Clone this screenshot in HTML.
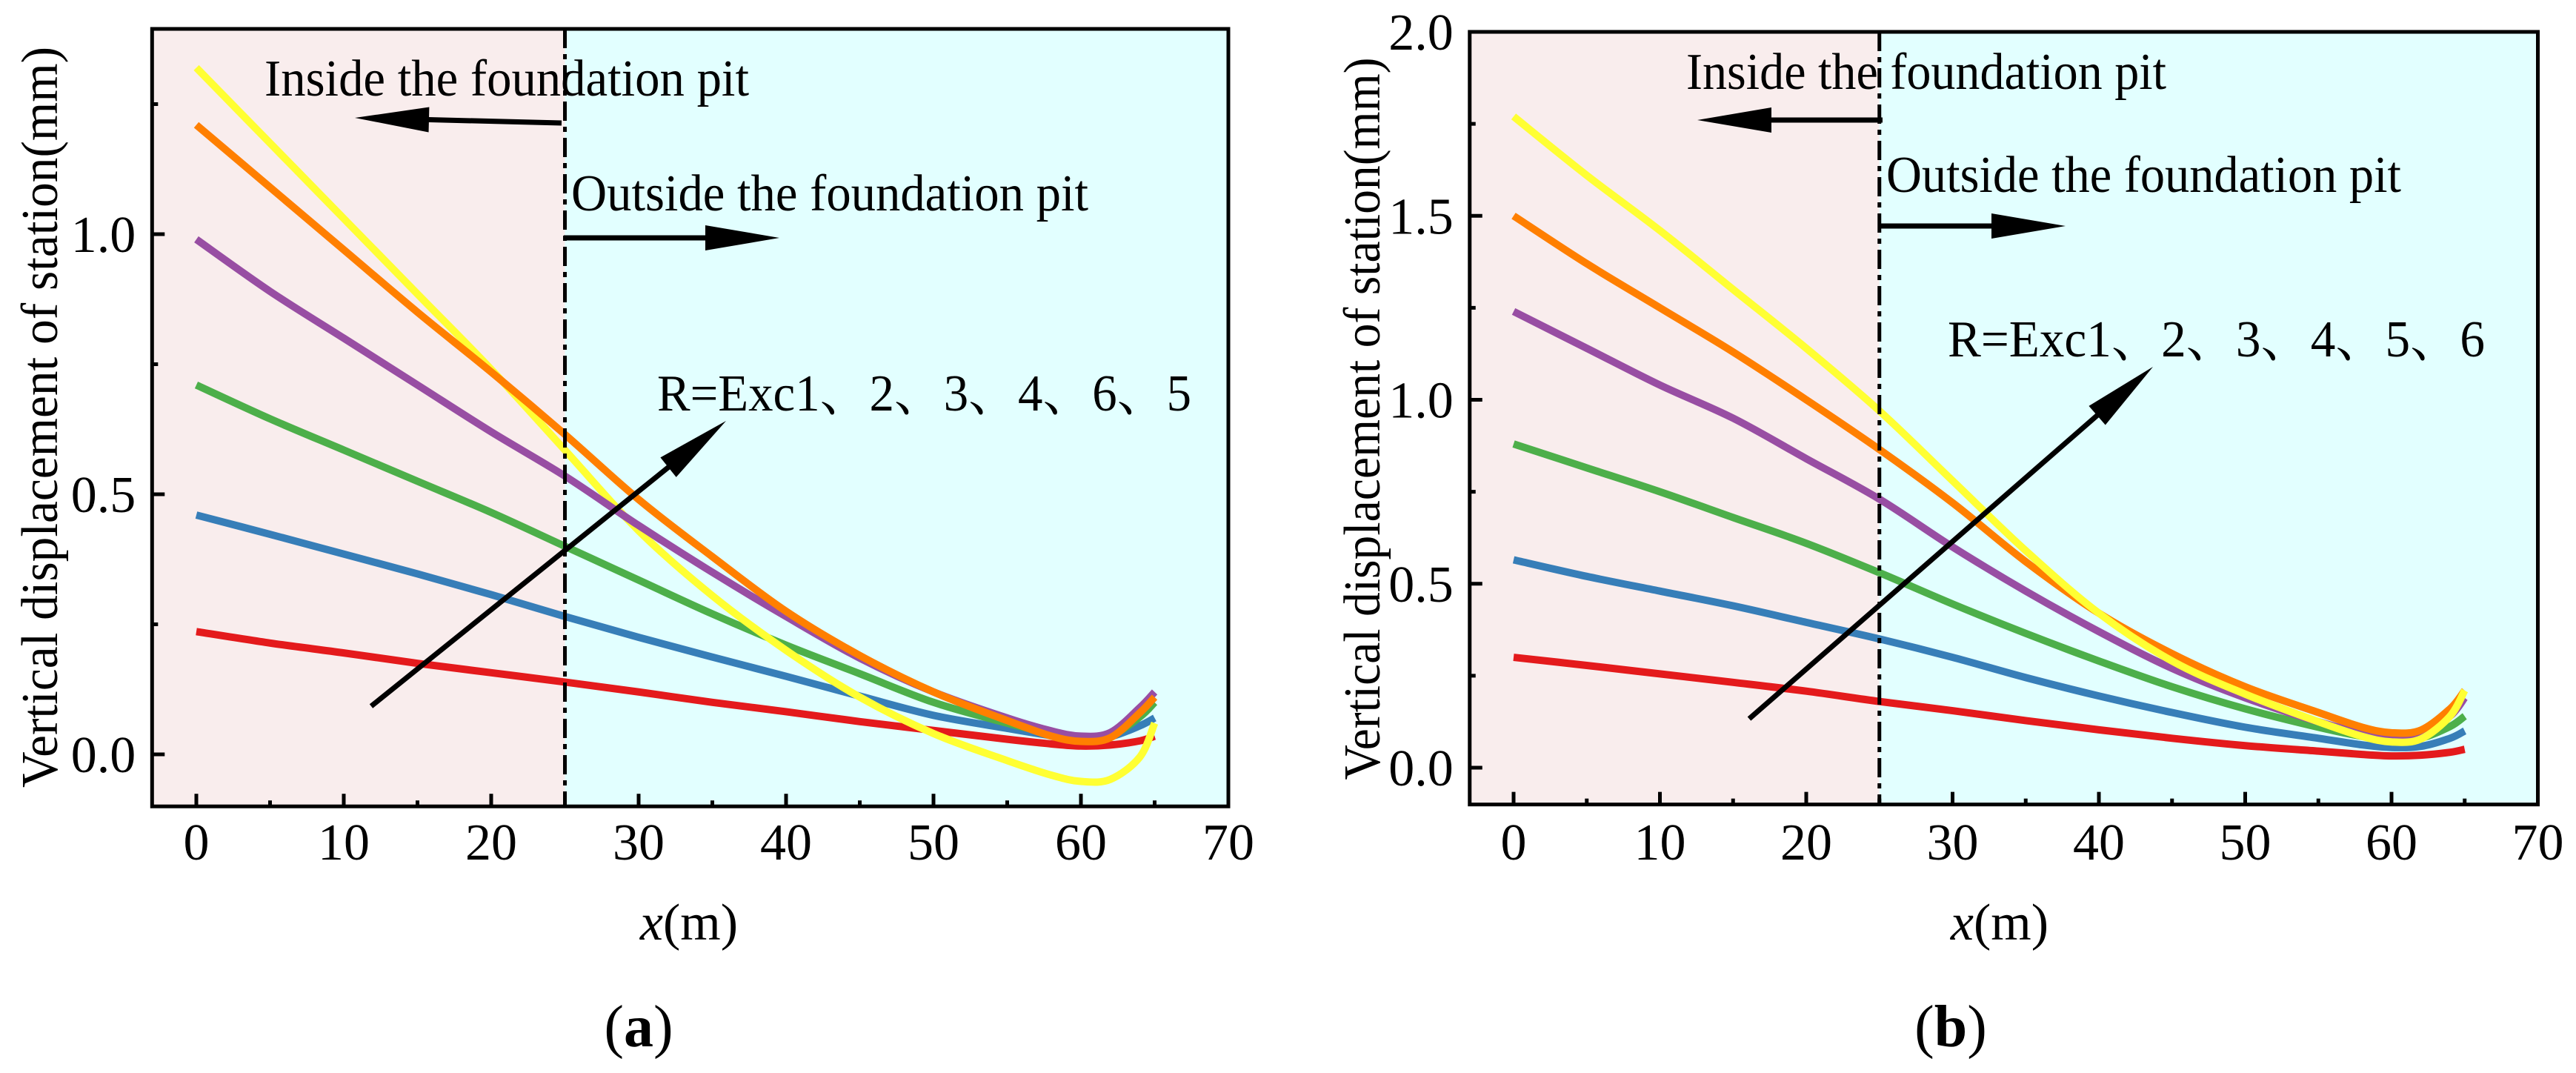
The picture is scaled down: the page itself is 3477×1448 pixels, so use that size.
<!DOCTYPE html>
<html><head><meta charset="utf-8"><style>
html,body{margin:0;padding:0;background:#fff;}
svg{display:block;}
text{font-family:"Liberation Serif","Noto Serif CJK SC",serif;}
</style></head><body>
<svg id="svg" width="3477" height="1448" viewBox="0 0 3477 1448" xmlns="http://www.w3.org/2000/svg"></svg>
<script>
// ---- data ----
const xsA = [0,5,10,15,20,25,30,35,40,45,50,55,58,60,62,64,65];
const redA    = [0.236,0.214,0.195,0.175,0.157,0.139,0.12,0.1,0.082,0.063,0.046,0.029,0.02,0.016,0.018,0.026,0.035];
const blueA   = [0.46,0.423,0.385,0.347,0.307,0.265,0.225,0.187,0.15,0.112,0.075,0.05,0.036,0.03,0.034,0.055,0.07];
const greenA  = [0.71,0.645,0.585,0.525,0.465,0.40,0.335,0.27,0.21,0.155,0.10,0.06,0.04,0.03,0.035,0.072,0.10];
const purpleA = [0.99,0.89,0.80,0.71,0.62,0.535,0.44,0.35,0.265,0.185,0.12,0.07,0.045,0.035,0.042,0.09,0.12];
const orangeA = [1.21,1.09,0.97,0.85,0.735,0.615,0.49,0.38,0.275,0.19,0.12,0.065,0.035,0.025,0.032,0.08,0.11];
const yellowA = [1.32,1.175,1.03,0.885,0.74,0.585,0.43,0.305,0.20,0.11,0.04,-0.012,-0.04,-0.052,-0.048,-0.005,0.06];

const xsB = [0,5,10,15,20,25,30,35,40,45,50,55,58,60,62,64,65];
const redB    = [0.30,0.278,0.255,0.232,0.208,0.18,0.155,0.128,0.103,0.08,0.06,0.045,0.036,0.032,0.034,0.042,0.05];
const blueB   = [0.565,0.52,0.48,0.44,0.395,0.35,0.30,0.245,0.195,0.15,0.11,0.08,0.062,0.055,0.058,0.08,0.10];
const greenB  = [0.88,0.815,0.75,0.68,0.61,0.53,0.445,0.365,0.29,0.22,0.16,0.11,0.085,0.075,0.08,0.112,0.14];
const purpleB = [1.24,1.14,1.04,0.95,0.84,0.73,0.60,0.48,0.37,0.27,0.19,0.125,0.095,0.085,0.092,0.14,0.19];
const orangeB = [1.50,1.37,1.25,1.13,1.00,0.865,0.72,0.56,0.42,0.31,0.22,0.15,0.11,0.095,0.102,0.16,0.21];
const yellowB = [1.77,1.61,1.46,1.30,1.14,0.97,0.78,0.59,0.42,0.29,0.20,0.125,0.085,0.07,0.078,0.14,0.21];

const xTicks = [0,10,20,30,40,50,60,70];
const xTickLabels = ["0","10","20","30","40","50","60","70"];
const yTicksA = [0,0.5,1.0];
const yTickLabelsA = ["0.0","0.5","1.0"];
const yTicksB = [0,0.5,1.0,1.5,2.0];
const yTickLabelsB = ["0.0","0.5","1.0","1.5","2.0"];

const NS="http://www.w3.org/2000/svg";
const svg=document.getElementById('svg');
function mk(tag,attrs,parent){const e=document.createElementNS(NS,tag);for(const k in attrs)e.setAttribute(k,attrs[k]);(parent||svg).appendChild(e);return e;}
function smooth(pts){let d=`M${pts[0][0]},${pts[0][1]}`;for(let i=0;i<pts.length-1;i++){const p0=pts[i-1]||pts[i],p1=pts[i],p2=pts[i+1],p3=pts[i+2]||p2;
const c1x=p1[0]+(p2[0]-p0[0])/6,c1y=p1[1]+(p2[1]-p0[1])/6,c2x=p2[0]-(p3[0]-p1[0])/6,c2y=p2[1]-(p3[1]-p1[1])/6;
d+=` C${c1x},${c1y} ${c2x},${c2y} ${p2[0]},${p2[1]}`;}return d;}
function arrow(g,x1,y1,x2,y2,name){const a=Math.atan2(y2-y1,x2-x1),L=100,W=17;
const bx=x2-L*Math.cos(a),by=y2-L*Math.sin(a);
const l=mk('line',{x1,y1,x2:bx+10*Math.cos(a),y2:by+10*Math.sin(a),stroke:'#000','stroke-width':7},g);

const p=mk('polygon',{points:`${x2},${y2} ${bx-W*Math.sin(a)},${by+W*Math.cos(a)} ${bx+W*Math.sin(a)},${by-W*Math.cos(a)}`,fill:'#000'},g);
}
function txt(g,x,y,s,opts,name){const t=mk('text',Object.assign({x,y,'font-size':70,fill:'#000','font-family':'Liberation Serif, Noto Serif CJK SC, serif'},opts||{}),g);t.textContent=s;
return t;}

function panel(cfg){
const g=mk('g',{});
const X=v=>cfg.x0+v*cfg.px, Y=v=>cfg.y0-v*cfg.py;
const L=X(-3),R=X(70),T=cfg.top,B=Y(-0.1);
const r1=mk('rect',{x:L,y:T,width:X(25)-L,height:B-T,fill:'#f9eded'},g);

const r2=mk('rect',{x:X(25),y:T,width:R-X(25),height:B-T,fill:'#e2ffff'},g);

cfg.series.forEach(s=>{const pts=cfg.xs.map((x,i)=>[X(x),Y(s.v[i])]);
const p=mk('path',{d:smooth(pts),fill:'none',stroke:s.c,'stroke-width':10,'stroke-linejoin':'round'},g);
});
const dl=mk('line',{x1:X(25),y1:T,x2:X(25),y2:B,stroke:'#000','stroke-width':5,'stroke-dasharray':'26 8 7 8'},g);

const fr=mk('rect',{x:L,y:T,width:R-L,height:B-T,fill:'none',stroke:'#000','stroke-width':5},g);

for(let v=0;v<=65;v+=5){const major=v%10===0;const t=mk('line',{x1:X(v),y1:B,x2:X(v),y2:B-(major?17:8),stroke:'#000','stroke-width':5},g);
}
xTicks.forEach((v,i)=>txt(g,X(v),1160,xTickLabels[i],{'text-anchor':'middle'},'x-tick-label'));
for(let v=0;v<=cfg.ymax+1e-9;v+=0.25){const major=Math.abs(v*2-Math.round(v*2))<1e-6;const t=mk('line',{x1:L,y1:Y(v),x2:L+(major?17:8),y2:Y(v),stroke:'#000','stroke-width':5},g);
}
cfg.yt.forEach((v,i)=>txt(g,L-22,Y(v)+24,cfg.ytl[i],{'text-anchor':'end'},'y-tick-label'));
txt(g,0,0,'Vertical displacement of station(mm)',{transform:`translate(${cfg.ytx},${cfg.ytc}) rotate(-90)`,'text-anchor':'middle',textLength:cfg.ytlen,lengthAdjust:'spacingAndGlyphs'},'y-axis-title');
const xt=txt(g,cfg.xtc,1268,'',{'text-anchor':'middle'},'x-axis-title');
xt.innerHTML='<tspan font-style="italic">x</tspan>(m)';
const pl=txt(g,cfg.plc,1412,'',{'font-size':80,'text-anchor':'middle'},'panel-label');
pl.innerHTML='(<tspan font-weight="bold">'+cfg.letter+'</tspan>)';
const a=cfg.ann;
txt(g,a.in[0],a.in[1],'Inside the foundation pit',{textLength:a.in[2],lengthAdjust:'spacingAndGlyphs'},'inside-label');
arrow(g,a.inA[0],a.inA[1],a.inA[2],a.inA[3],'inside-arrow');
txt(g,a.out[0],a.out[1],'Outside the foundation pit',{textLength:a.out[2],lengthAdjust:'spacingAndGlyphs'},'outside-label');
arrow(g,a.outA[0],a.outA[1],a.outA[2],a.outA[3],'outside-arrow');
txt(g,a.r[0],a.r[1],a.r[3],{textLength:a.r[2],lengthAdjust:'spacingAndGlyphs'},'order-label');
arrow(g,a.rA[0],a.rA[1],a.rA[2],a.rA[3],'order-arrow');
}

panel({name:'panel-a',letter:'a',x0:265,px:19.9,y0:1018,py:702,top:39,ymax:1.35,xs:xsA,
series:[{n:'series-exc1',c:'#e41a1c',v:redA},{n:'series-exc2',c:'#377eb8',v:blueA},{n:'series-exc3',c:'#4daf4a',v:greenA},
{n:'series-exc5',c:'#ffff33',v:yellowA},{n:'series-exc4',c:'#984ea3',v:purpleA},{n:'series-exc6',c:'#ff7f00',v:orangeA}],
yt:yTicksA,ytl:yTickLabelsA,ytx:77,ytc:563,ytlen:1000,xtc:930,plc:862,
ann:{in:[357,129,654],inA:[758,166,479,159],out:[771,284,698],outA:[761,321,1052,321],r:[887,554,721,'R=Exc1、2、3、4、6、5'],rA:[501,953,980,568]}});

panel({name:'panel-b',letter:'b',x0:2043,px:19.75,y0:1036,py:496.5,top:43,ymax:2.0,xs:xsB,
series:[{n:'series-exc1',c:'#e41a1c',v:redB},{n:'series-exc2',c:'#377eb8',v:blueB},{n:'series-exc3',c:'#4daf4a',v:greenB},
{n:'series-exc4',c:'#984ea3',v:purpleB},{n:'series-exc5',c:'#ff7f00',v:orangeB},{n:'series-exc6',c:'#ffff33',v:yellowB}],
yt:yTicksB,ytl:yTickLabelsB,ytx:1862,ytc:565,ytlen:975,xtc:2699,plc:2633,
ann:{in:[2276,120,648],inA:[2541,162,2291,162],out:[2546,259,695],outA:[2536,305,2788,305],r:[2629,481,725,'R=Exc1、2、3、4、5、6'],rA:[2361,970,2906,495]}});
</script>
</body></html>
